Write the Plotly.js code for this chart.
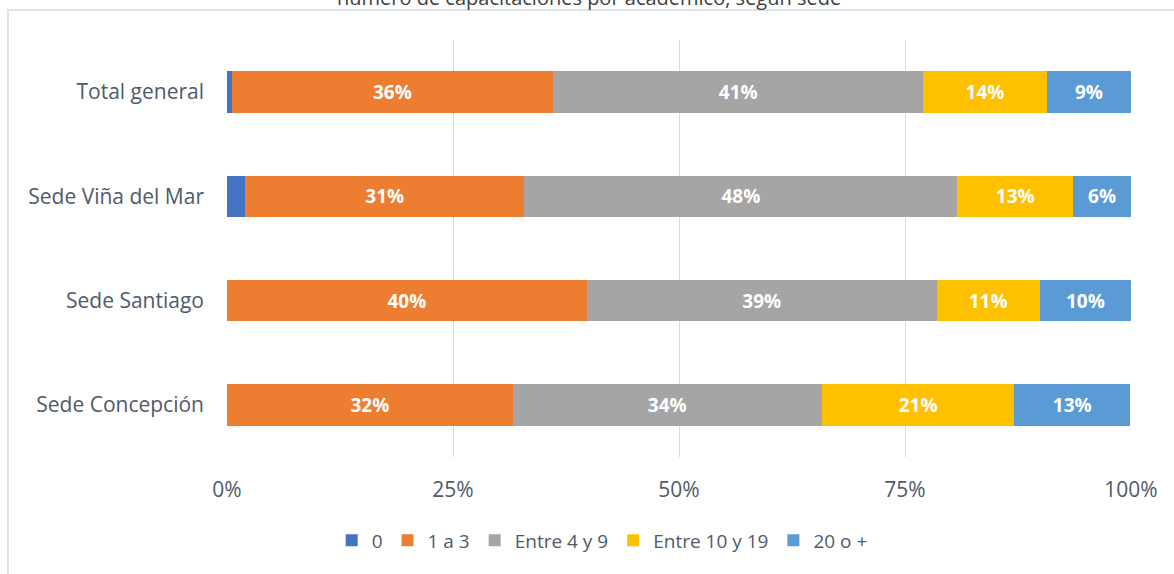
<!DOCTYPE html>
<html>
<head>
<meta charset="utf-8">
<script src="https://cdn.plot.ly/plotly-3.0.1.min.js"></script>
<style>html,body{margin:0;padding:0;background:#fff}#chart{width:1174px;height:574px}</style>
</head>
<body>
<div id="chart"></div>
<script>
var sedes = ["Sede Concepción", "Sede Santiago", "Sede Viña del Mar", "Total general"];
var cero = [0, 0, 0.020, 0.005];
var unoATres = [0.316, 0.398, 0.309, 0.356];
var entre4y9 = [0.342, 0.387, 0.479, 0.409];
var entre10y19 = [0.213, 0.114, 0.128, 0.137];
var veinteOMas = [0.128, 0.101, 0.064, 0.093];
var seriesNames = ["0", "1 a 3", "Entre 4 y 9", "Entre 10 y 19", "20 o +"];
var seriesValues = [cero, unoATres, entre4y9, entre10y19, veinteOMas];
var seriesColors = ["#4472C4", "#ED7D31", "#A5A5A5", "#FFC000", "#5B9BD5"];
var showLabels = [false, true, true, true, true];
var titleText = "número de capacitaciones por académico, según sede";

var font = "'Open Sans', 'Noto Sans', sans-serif";
var textColor = "#505A68";
var traces = seriesNames.map(function (n, i) {
  var t = {
    type: "bar",
    orientation: "h",
    name: n,
    y: sedes,
    x: seriesValues[i],
    marker: { color: seriesColors[i], line: { width: 0 } },
    width: 0.4,
    hoverinfo: "skip",
    cliponaxis: false
  };
  if (showLabels[i]) {
    t.texttemplate = "<b>%{x:.0%}</b>";
    t.textposition = "inside";
    t.insidetextanchor = "middle";
    t.constraintext = "none";
    t.textfont = { family: font, size: 19, color: "#FFFFFF" };
  } else {
    t.text = sedes.map(function () { return ""; });
    t.textposition = "none";
  }
  return t;
});

var layout = {
  width: 1174,
  height: 574,
  margin: { l: 227, r: 43, t: 40, b: 117 },
  paper_bgcolor: "#FFFFFF",
  plot_bgcolor: "#FFFFFF",
  barmode: "stack",
  showlegend: true,
  font: { family: font, color: textColor },
  xaxis: {
    range: [0, 1],
    tickvals: [0, 0.25, 0.5, 0.75, 1],
    tickformat: ".0%",
    showgrid: true,
    gridcolor: "#D9D9D9",
    gridwidth: 1,
    zeroline: false,
    showline: false,
    ticks: "",
    ticklabelstandoff: 18,
    tickfont: { family: font, size: 21, color: textColor },
    fixedrange: true
  },
  yaxis: {
    categoryorder: "array",
    categoryarray: sedes,
    range: [-0.5, 3.5],
    showgrid: false,
    zeroline: false,
    showline: false,
    ticks: "",
    ticklabelstandoff: 22,
    tickfont: { family: font, size: 21, color: textColor },
    fixedrange: true
  },
  legend: {
    orientation: "h",
    x: 0.415,
    xanchor: "center",
    y: -0.2,
    yanchor: "middle",
    font: { family: font, size: 19, color: textColor },
    itemwidth: 30,
    traceorder: "normal",
    tracegroupgap: 0
  },
  annotations: [{
    text: titleText,
    xref: "paper", yref: "paper",
    x: 0.40, y: 1,
    xanchor: "center", yanchor: "middle",
    yshift: 43,
    showarrow: false,
    font: { family: font, size: 20, color: "#404040" }
  }],
  shapes: [{
    type: "rect",
    xref: "paper", yref: "paper",
    x0: -0.2423, x1: 1.1, y0: -0.4, y1: 1.072,
    line: { color: "#DDE3EC", width: 2 },
    fillcolor: "rgba(0,0,0,0)",
    layer: "below"
  }]
};

Plotly.newPlot("chart", traces, layout, { displayModeBar: false, staticPlot: true });
</script>
</body>
</html>
